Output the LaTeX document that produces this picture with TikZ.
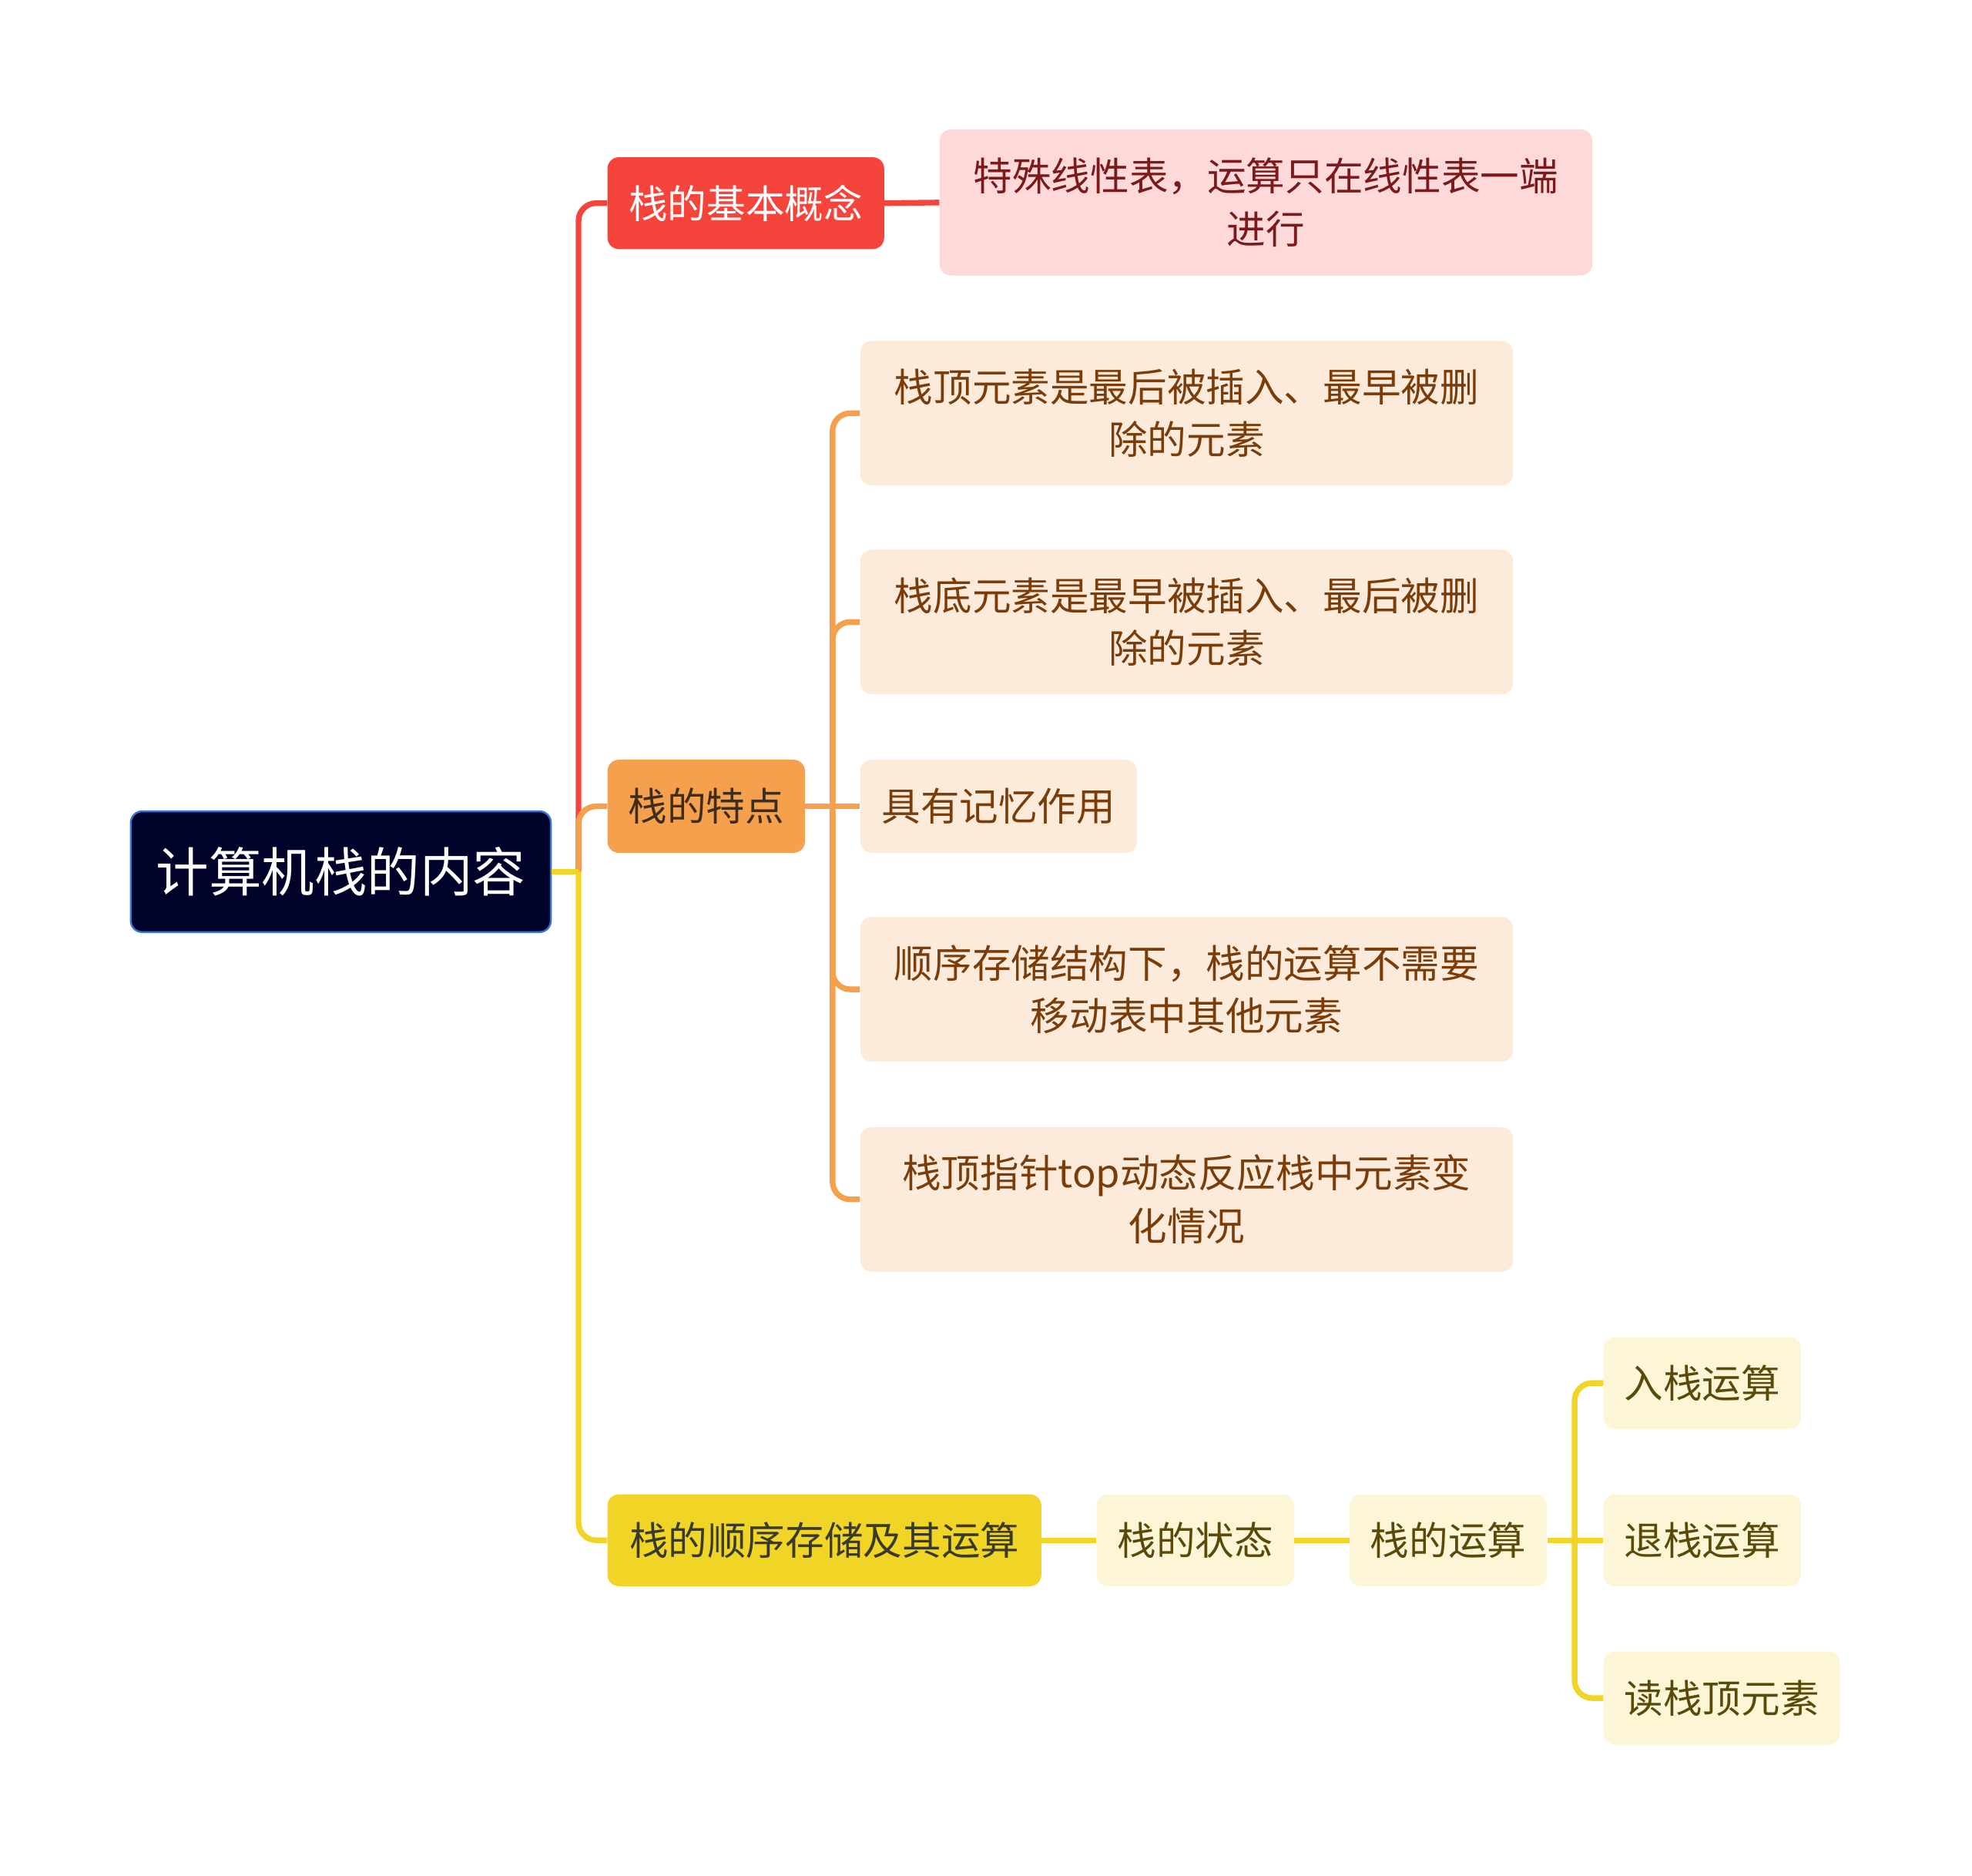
\documentclass[tikz,border=0pt]{standalone}
\usepackage{fontspec}
\setmainfont{Noto Sans CJK SC}
\definecolor{rootfill}{HTML}{000229}
\definecolor{rootdraw}{HTML}{3A72D0}
\definecolor{cred}{HTML}{F5443B}
\definecolor{cpink}{HTML}{FDD9D9}
\definecolor{tpink}{HTML}{7A1A1A}
\definecolor{corange}{HTML}{F5A04D}
\definecolor{corlight}{HTML}{FCEBDB}
\definecolor{torange}{HTML}{7A3D0A}
\definecolor{tordark}{HTML}{3D2D1D}
\definecolor{cyellow}{HTML}{F0D426}
\definecolor{cyellight}{HTML}{FCF6D6}
\definecolor{tyellow}{HTML}{5A4A0A}
\definecolor{tyeldark}{HTML}{3A3A2A}
\tikzset{
  box/.style={rectangle, rounded corners=9pt, inner sep=0pt, align=center, font=\fontsize{31}{42}\selectfont},
  rootbox/.style={box, fill=rootfill, draw=rootdraw, line width=1.5pt, text=white, font=\fontsize{42}{50}\selectfont, minimum width=334pt, minimum height=96pt},
  redbox/.style={box, fill=cred, text=white},
  pinkbox/.style={box, fill=cpink, text=tpink},
  orbox/.style={box, fill=corange, text=tordark},
  orlbox/.style={box, fill=corlight, text=torange},
  yelbox/.style={box, fill=cyellow, text=tyeldark},
  yellbox/.style={box, fill=cyellight, text=tyellow},
  redline/.style={draw=cred, line width=4.5pt},
  orline/.style={draw=corange, line width=4.5pt},
  yelline/.style={draw=cyellow, line width=4.5pt},
}
\begin{document}
\begin{tikzpicture}[x=1pt, y=-1pt]
\useasboundingbox (0,0) rectangle (1568,1491);

% nodes
\node[rootbox] (root) at (271,693) {计算机栈的内容};
\node[redbox, minimum width=220pt, minimum height=73pt] (n1) at (593,161.5) {栈的基本概念};
\node[pinkbox, minimum width=519pt, minimum height=116pt] (p1) at (1006.5,161) {特殊线性表，运算只在线性表一端\\进行};
\node[orbox, minimum width=157pt, minimum height=74pt] (n2) at (561.5,641) {栈的特点};
\node[orlbox, minimum width=519pt, minimum height=115pt] (o1) at (943.5,328.5) {栈顶元素是最后被插入、最早被删\\除的元素};
\node[orlbox, minimum width=519pt, minimum height=115pt] (o2) at (943.5,494.5) {栈底元素是最早被插入、最后被删\\除的元素};
\node[orlbox, minimum width=220pt, minimum height=74pt] (o3) at (794,641) {具有记忆作用};
\node[orlbox, minimum width=519pt, minimum height=115pt] (o4) at (943.5,786.5) {顺序存储结构下，栈的运算不需要\\移动表中其他元素};
\node[orlbox, minimum width=519pt, minimum height=115pt] (o5) at (943.5,953.5) {栈顶指针top动态反应栈中元素变\\化情况};
\node[yelbox, minimum width=345pt, minimum height=73pt] (n3) at (655.5,1224.5) {栈的顺序存储及其运算};
\node[yellbox, minimum width=157pt, minimum height=73pt] (y1) at (950.5,1224.5) {栈的状态};
\node[yellbox, minimum width=157pt, minimum height=73pt] (y2) at (1151.5,1224.5) {栈的运算};
\node[yellbox, minimum width=157pt, minimum height=73pt] (y3) at (1353.5,1099.5) {入栈运算};
\node[yellbox, minimum width=157pt, minimum height=73pt] (y4) at (1353.5,1224.5) {退栈运算};
\node[yellbox, minimum width=188pt, minimum height=74pt] (y5) at (1369,1350) {读栈顶元素};

% junctions
\coordinate (j0) at (460,693);
\coordinate (j1) at (662,641);
\coordinate (j2) at (1252,1224.5);

% connectors
\draw[redline, rounded corners=14pt] (j0) |- (n1.west);
\draw[orline, rounded corners=14pt] (j0) |- (n2.west);
\draw[yelline] (root.east) -- (j0);
\draw[yelline, rounded corners=14pt] (j0) |- (n3.west);
\draw[redline] (n1.east) -- (p1.west);

\draw[orline] (n2.east) -- (j1);
\draw[orline, rounded corners=14pt] (j1) |- (o1.west);
\draw[orline, rounded corners=14pt] (j1) |- (o2.west);
\draw[orline] (j1) -- (o3.west);
\draw[orline, rounded corners=14pt] (j1) |- (o4.west);
\draw[orline, rounded corners=14pt] (j1) |- (o5.west);

\draw[yelline] (n3.east) -- (y1.west);
\draw[yelline] (y1.east) -- (y2.west);
\draw[yelline] (y2.east) -- (j2);
\draw[yelline, rounded corners=14pt] (j2) |- (y3.west);
\draw[yelline] (j2) -- (y4.west);
\draw[yelline, rounded corners=14pt] (j2) |- (y5.west);
\end{tikzpicture}
\end{document}
